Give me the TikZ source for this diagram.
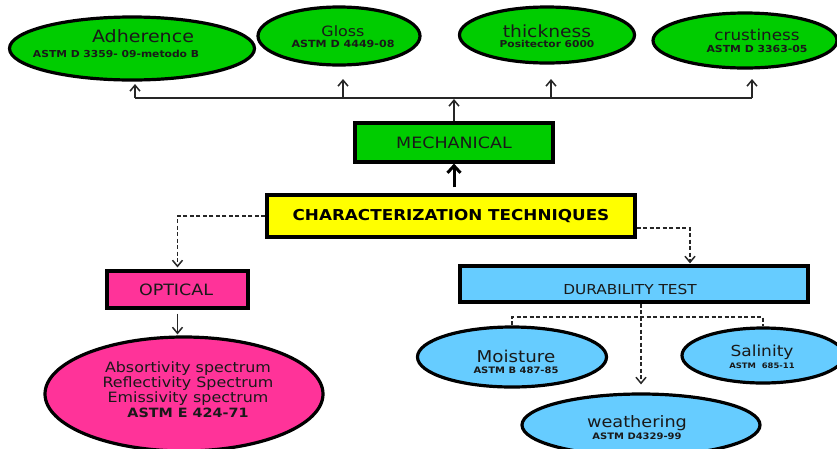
\documentclass[tikz,border=0pt]{standalone}
\usepackage{fontspec}
\setmainfont{DejaVu Sans}[FakeStretch=1.12]
\usetikzlibrary{shapes.geometric,arrows.meta}
\definecolor{cgreen}{RGB}{0,204,0}
\definecolor{cyellow}{RGB}{255,255,0}
\definecolor{cpink}{RGB}{255,51,153}
\definecolor{cblue}{RGB}{102,204,255}
\newcommand{\fsz}[1]{\fontsize{#1}{#1}\selectfont}
\begin{document}
\begin{tikzpicture}[x=1pt,y=-1pt,
 oval/.style={ellipse, draw=black, line width=3.2pt, inner sep=0pt},
 box/.style={rectangle, draw=black, line width=3.2pt, inner sep=0pt},
 txt/.style={inner sep=0pt, text=black!90},
 conn/.style={draw=black!85, line width=1.5pt},
 tip/.style={-{Straight Barb[length=6pt,width=10pt]}},
 dsh/.style={dash pattern=on 4pt off 2.5pt}
]
\useasboundingbox (0,0) rectangle (837,448);

% top ellipses
\node[oval, fill=cgreen, minimum width=245, minimum height=63] (adh) at (132,48.5) {};
\node[oval, fill=cgreen, minimum width=162, minimum height=58] (glo) at (339,36) {};
\node[oval, fill=cgreen, minimum width=175, minimum height=56] (thk) at (547,35) {};
\node[oval, fill=cgreen, minimum width=184, minimum height=55] (cru) at (745,40.5) {};

\node[txt] (adhT) at (143,36) {\fsz{17}Adherence};
\node[txt] (adhS) at (116,54) {\fsz{9.6}\bfseries ASTM D 3359- 09-metodo B};
\node[txt] (gloT) at (343,31) {\fsz{14.2}Gloss};
\node[txt] (gloS) at (343,44) {\fsz{9.9}\bfseries ASTM D 4449-08};
\node[txt] (thkT) at (547,31) {\fsz{16.7}thickness};
\node[txt] (thkS) at (547,44) {\fsz{9.5}\bfseries Positector 6000};
\node[txt] (cruT) at (757,35) {\fsz{15}crustiness};
\node[txt] (cruS) at (757,49) {\fsz{9.7}\bfseries ASTM D 3363-05};

% boxes
\node[box, fill=cgreen, minimum width=198, minimum height=39] (mech) at (454,142.5) {};
\node[txt] (mechT) at (454,143) {\fsz{15.6}MECHANICAL};
\node[box, fill=cyellow, minimum width=368, minimum height=42] (ct) at (451,216) {};
\node[txt, text=black] (ctT) at (451,216) {\fsz{15}\bfseries CHARACTERIZATION TECHNIQUES};
\node[box, fill=cpink, minimum width=141, minimum height=37] (opt) at (177.5,289.5) {};
\node[txt] (optT) at (176,290) {\fsz{15.6}OPTICAL};
\node[box, fill=cblue, minimum width=348, minimum height=36] (dt) at (634,284) {};
\node[txt] (dtT) at (630,290) {\fsz{13.7}DURABILITY TEST};

% bottom ellipses
\node[oval, fill=cpink, minimum width=278, minimum height=114] (pnk) at (184,394) {};
\node[txt, align=center, font={\fontsize{14.2}{15}\selectfont}] (pnkT) at (188,389.5) {Absortivity spectrum\\Reflectivity Spectrum\\Emissivity spectrum\\{\fontsize{12.8}{15}\selectfont\bfseries ASTM E 424-71}};
\node[oval, fill=cblue, minimum width=189, minimum height=60] (moi) at (512,357) {};
\node[oval, fill=cblue, minimum width=162, minimum height=55] (sal) at (763,355.5) {};
\node[oval, fill=cblue, minimum width=238, minimum height=62] (wea) at (641,425) {};
\node[txt] (moiT) at (516,356) {\fsz{16.3}Moisture};
\node[txt] (moiS) at (516,370) {\fsz{8.9}\bfseries ASTM B 487-85};
\node[txt] (salT) at (762,352) {\fsz{15.2}Salinity};
\node[txt] (salS) at (762,366) {\fsz{7.5}\bfseries ASTM\ \ 685-11};
\node[txt] (weaT) at (637,423) {\fsz{15.8}weathering};
\node[txt] (weaS) at (637,436) {\fsz{8.9}\bfseries ASTM D4329-99};

% top connectors
\coordinate (jA) at (135,98);
\coordinate (jG) at (343,98);
\coordinate (jT) at (551,98);
\coordinate (jC) at (752,98);
\coordinate (jM) at (454,99);
\coordinate (tA) at (135,84);
\coordinate (tG) at (343,79);
\coordinate (tT) at (551,79);
\coordinate (tC) at (752,79);
\draw[conn] (jA) -- (jC);
\draw[conn,tip] (jA) -- (tA);
\draw[conn,tip] (jG) -- (tG);
\draw[conn,tip] (jT) -- (tT);
\draw[conn,tip] (jC) -- (tC);
\draw[conn,tip] (mech.north) -- (jM);
\draw[draw=black, line width=3pt, -{Straight Barb[length=7pt,width=13pt]}, shorten <=6pt] (ct.north -| mech.south) -- (mech.south);

% dashed connectors
\draw[conn,dsh,tip,shorten >=2pt] (ct.west) -| (opt.north);
\draw[conn,dsh,tip,shorten >=1pt] ([yshift=-12pt]ct.east) -| ([xshift=56pt]dt.north);
\draw[conn,tip,shorten <=4pt,shorten >=1pt] (opt.south) -- (opt.south |- pnk.north);
\coordinate (jD) at (640,317);
\draw[conn,dsh] (moi.north) |- (jD) -| (sal.north);
\draw[conn,dsh,tip,shorten >=8pt] (dt.south -| wea.north) -- (wea.north);
\end{tikzpicture}
\end{document}
